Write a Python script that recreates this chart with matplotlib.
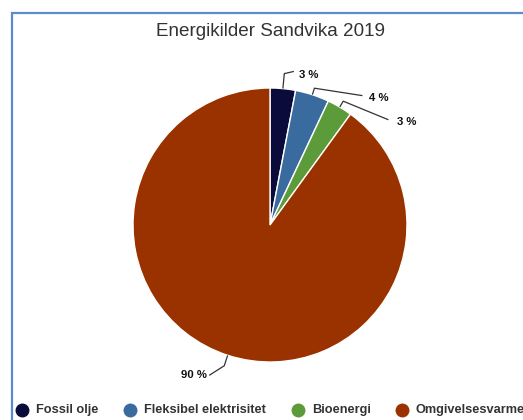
import numpy as np
import matplotlib.pyplot as plt
from matplotlib.patches import Rectangle
from matplotlib.lines import Line2D

plt.rcParams['font.family'] = ['Liberation Sans', 'DejaVu Sans']

title = "Energikilder Sandvika 2019"
sources = ["Fossil olje", "Fleksibel elektrisitet", "Bioenergi", "Omgivelsesvarme"]
shares = [3, 4, 3, 90]
colours = ["#0b0b3b", "#3a6b9f", "#5c9b3a", "#9a3200"]

W, H = 523, 420
fig = plt.figure(figsize=(W / 100, H / 100), dpi=100)

# blue frame round the chart area (runs off the right and bottom edges)
fig.patches.append(Rectangle((12 / W, -0.1), 1.2, 1 - 13 / H + 0.1,
                             transform=fig.transFigure, fill=False,
                             edgecolor="#5b8ccc", linewidth=1.6))

fig.text(270 / W, 1 - 31 / H, title, ha="center", va="center",
         fontsize=13.6, color="#333333")

# pie centred at (270, 225) px, radius 137 px
cx, cy, r = 270, 225, 137
ax = fig.add_axes([(cx - r) / W, (H - cy - r) / H, 2 * r / W, 2 * r / H])
wedges, _ = ax.pie(shares, colors=colours, startangle=90, counterclock=False,
                   radius=1, wedgeprops=dict(edgecolor="white", linewidth=1))
ax.set_xlim(-1, 1)
ax.set_ylim(-1, 1)
ax.set_aspect("auto")
ax.axis("off")

# data labels: elbow radius, line end and text anchor (in pie radii)
elbow_r = [1.11, 1.05, 1.05, 1.08]
line_end = [(0.17, 1.12), (0.67, 0.945), (0.86, 0.77), (-0.44, -1.095)]
label_pos = [(0.215, 1.095), (0.72, 0.925), (0.93, 0.755), (-0.46, -1.095)]
label_ha = ["left", "left", "left", "right"]

start = 90.0
for val, er, le, pos, ha in zip(shares, elbow_r, line_end, label_pos, label_ha):
    mid = np.deg2rad(start - val * 3.6 / 2)
    start -= val * 3.6
    ex, ey = np.cos(mid), np.sin(mid)
    xs = [ex * 1.005, ex * er, le[0]]
    ys = [ey * 1.005, ey * er, le[1]]
    ax.plot(xs, ys, color="#333333", lw=0.9, clip_on=False,
            solid_joinstyle="round")
    ax.text(pos[0], pos[1], f"{val} %", ha=ha, va="center", fontsize=8.2,
            fontweight="bold", color="#111111", clip_on=False)

# legend row along the bottom
legend_y = 1 - 410 / H
marker_x = [22, 130, 298, 402]
for name, col, mx in zip(sources, colours, marker_x):
    fig.add_artist(Line2D([mx / W], [legend_y], marker="o", markersize=9,
                          color=col, transform=fig.transFigure))
    fig.text((mx + 14) / W, legend_y, name, ha="left", va="center",
             fontsize=9.2, fontweight="bold", color="#333333")

fig.savefig("out.png", dpi=100)
